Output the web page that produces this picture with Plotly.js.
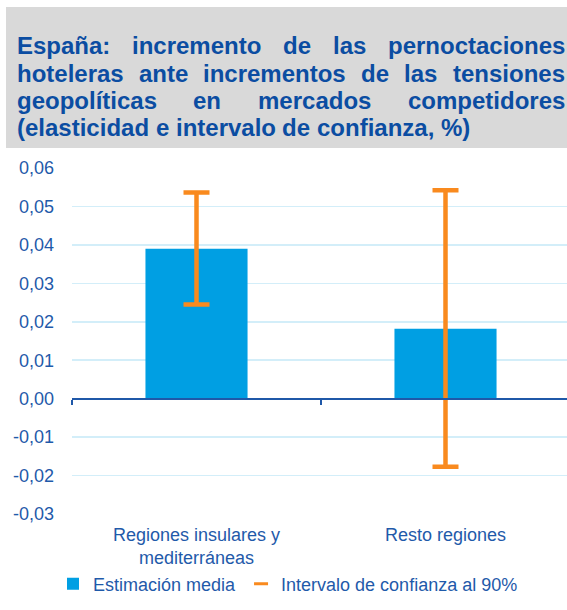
<!DOCTYPE html>
<html><head><meta charset="utf-8">
<script src="https://cdn.plot.ly/plotly-3.0.1.min.js"></script>
<style>html,body{margin:0;padding:0;background:#fff}</style>
</head><body><div id="chart" style="width:567px;height:610px"></div>
<script>
// ---- data ----
const categories = ['Regiones insulares y<br>mediterráneas', 'Resto regiones'];
const estimate = [0.039, 0.0182];
const ciUpper = [0.0536, 0.0542];
const ciLower = [0.0245, -0.0177];
const yTickVals = [0.06, 0.05, 0.04, 0.03, 0.02, 0.01, 0, -0.01, -0.02, -0.03];
const yTickText = ['0,06', '0,05', '0,04', '0,03', '0,02', '0,01', '0,00', '-0,01', '-0,02', '-0,03'];
const seriesNames = ['Estimación media', 'Intervalo de confianza al 90%'];
const titleLines = [
  'España: incremento de las pernoctaciones',
  'hoteleras ante incrementos de las tensiones',
  'geopolíticas en mercados competidores',
  '(elasticidad e intervalo de confianza, %)'
];

// ---- style ----
const W = 567, H = 610;
const M = {l: 72, r: 0, t: 168, b: 96};
const plotW = W - M.l - M.r, plotH = H - M.t - M.b;
const FONT = 'Liberation Sans, Arial, sans-serif';
const TXT = '#1F5AAA', TITLE_C = '#0B4DA2', BAR_C = '#009FE3', ORANGE = '#F98A1E';
const AXIS_C = '#1F58A8', GRID_C = '#D3EEF9';
const yRange = [Math.min(...yTickVals), Math.max(...yTickVals)];

const px2x = px => (px - M.l) / plotW;
const py2y = py => (H - M.b - py) / plotH;

// justified title words
const TFS = 24;
const cv = document.createElement('canvas').getContext('2d');
cv.font = 'bold ' + TFS + 'px "Liberation Sans", Arial, sans-serif';
const L = 17, R = 565;
const baselines = [53.5, 81.5, 108.5, 135.5];
const annotations = [];
titleLines.forEach((line, i) => {
  const words = line.split(' ');
  const last = i === titleLines.length - 1;
  const widths = words.map(w => cv.measureText(w).width);
  const total = widths.reduce((a, b) => a + b, 0);
  const gap = last ? cv.measureText(' ').width : (R - L - total) / (words.length - 1);
  let x = L;
  words.forEach((w, j) => {
    annotations.push({
      text: '<b>' + w + '</b>', xref: 'paper', yref: 'paper',
      x: px2x(x - 2), y: py2y(baselines[i] - 8), xanchor: 'left', yanchor: 'middle',
      showarrow: false, font: {family: FONT, size: TFS, color: TITLE_C}
    });
    x += widths[j] + gap;
  });
});

const traces = [
  {
    type: 'bar', x: categories, y: estimate, name: seriesNames[0],
    width: 0.41, marker: {color: BAR_C},
    error_y: {
      type: 'data', symmetric: false,
      array: ciUpper.map((u, i) => u - estimate[i]),
      arrayminus: ciLower.map((l, i) => estimate[i] - l),
      color: ORANGE, thickness: 4.5, width: 13
    },
    hoverinfo: 'x+y'
  },
  {
    type: 'scatter', mode: 'markers', x: [null], y: [null], name: seriesNames[1],
    marker: {symbol: 'line-ew-open', size: 10, color: ORANGE, line: {color: ORANGE, width: 3}}
  },
  {
    type: 'scatter', mode: 'none', x: categories, y: estimate, xaxis: 'x2', yaxis: 'y',
    showlegend: false, hoverinfo: 'skip'
  }
];

const xRange = [-0.5, -0.5 + plotW / 249];
const layout = {
  width: W, height: H, margin: M,
  paper_bgcolor: '#fff', plot_bgcolor: '#fff',
  font: {family: FONT, size: 18, color: TXT},
  showlegend: true,
  xaxis: {
    type: 'category', range: xRange, showgrid: false, zeroline: false, showline: false,
    ticks: '', ticklabelstandoff: 8, tickfont: {family: FONT, size: 18, color: TXT}, fixedrange: true
  },
  xaxis2: {
    type: 'category', overlaying: 'x', anchor: 'free',
    position: (0 - yRange[0]) / (yRange[1] - yRange[0]),
    range: xRange, showline: true, linecolor: AXIS_C, linewidth: 2,
    ticks: 'outside', ticklen: 5, tickwidth: 2, tickcolor: AXIS_C, tickson: 'boundaries',
    showticklabels: false, showgrid: false, zeroline: false
  },
  yaxis: {
    range: yRange, tickvals: yTickVals, ticktext: yTickText,
    showgrid: true, gridcolor: GRID_C, gridwidth: 1.5, zeroline: false, showline: false,
    ticks: '', ticklabelstandoff: 17, tickfont: {family: FONT, size: 18, color: TXT}
  },
  legend: {
    orientation: 'h', xref: 'container', yref: 'container',
    x: 53 / W, y: 1 - 584 / H, xanchor: 'left', yanchor: 'middle',
    font: {family: FONT, size: 18, color: TXT}, bgcolor: 'rgba(0,0,0,0)', traceorder: 'normal'
  },
  shapes: [{
    type: 'rect', xref: 'paper', yref: 'paper', layer: 'below',
    x0: px2x(6), x1: px2x(W + 5), y0: py2y(148), y1: py2y(7),
    fillcolor: '#D9D9D9', line: {width: 0}
  }],
  annotations: annotations
};

Plotly.newPlot('chart', traces, layout, {displayModeBar: false, staticPlot: true});
</script>
</body></html>
